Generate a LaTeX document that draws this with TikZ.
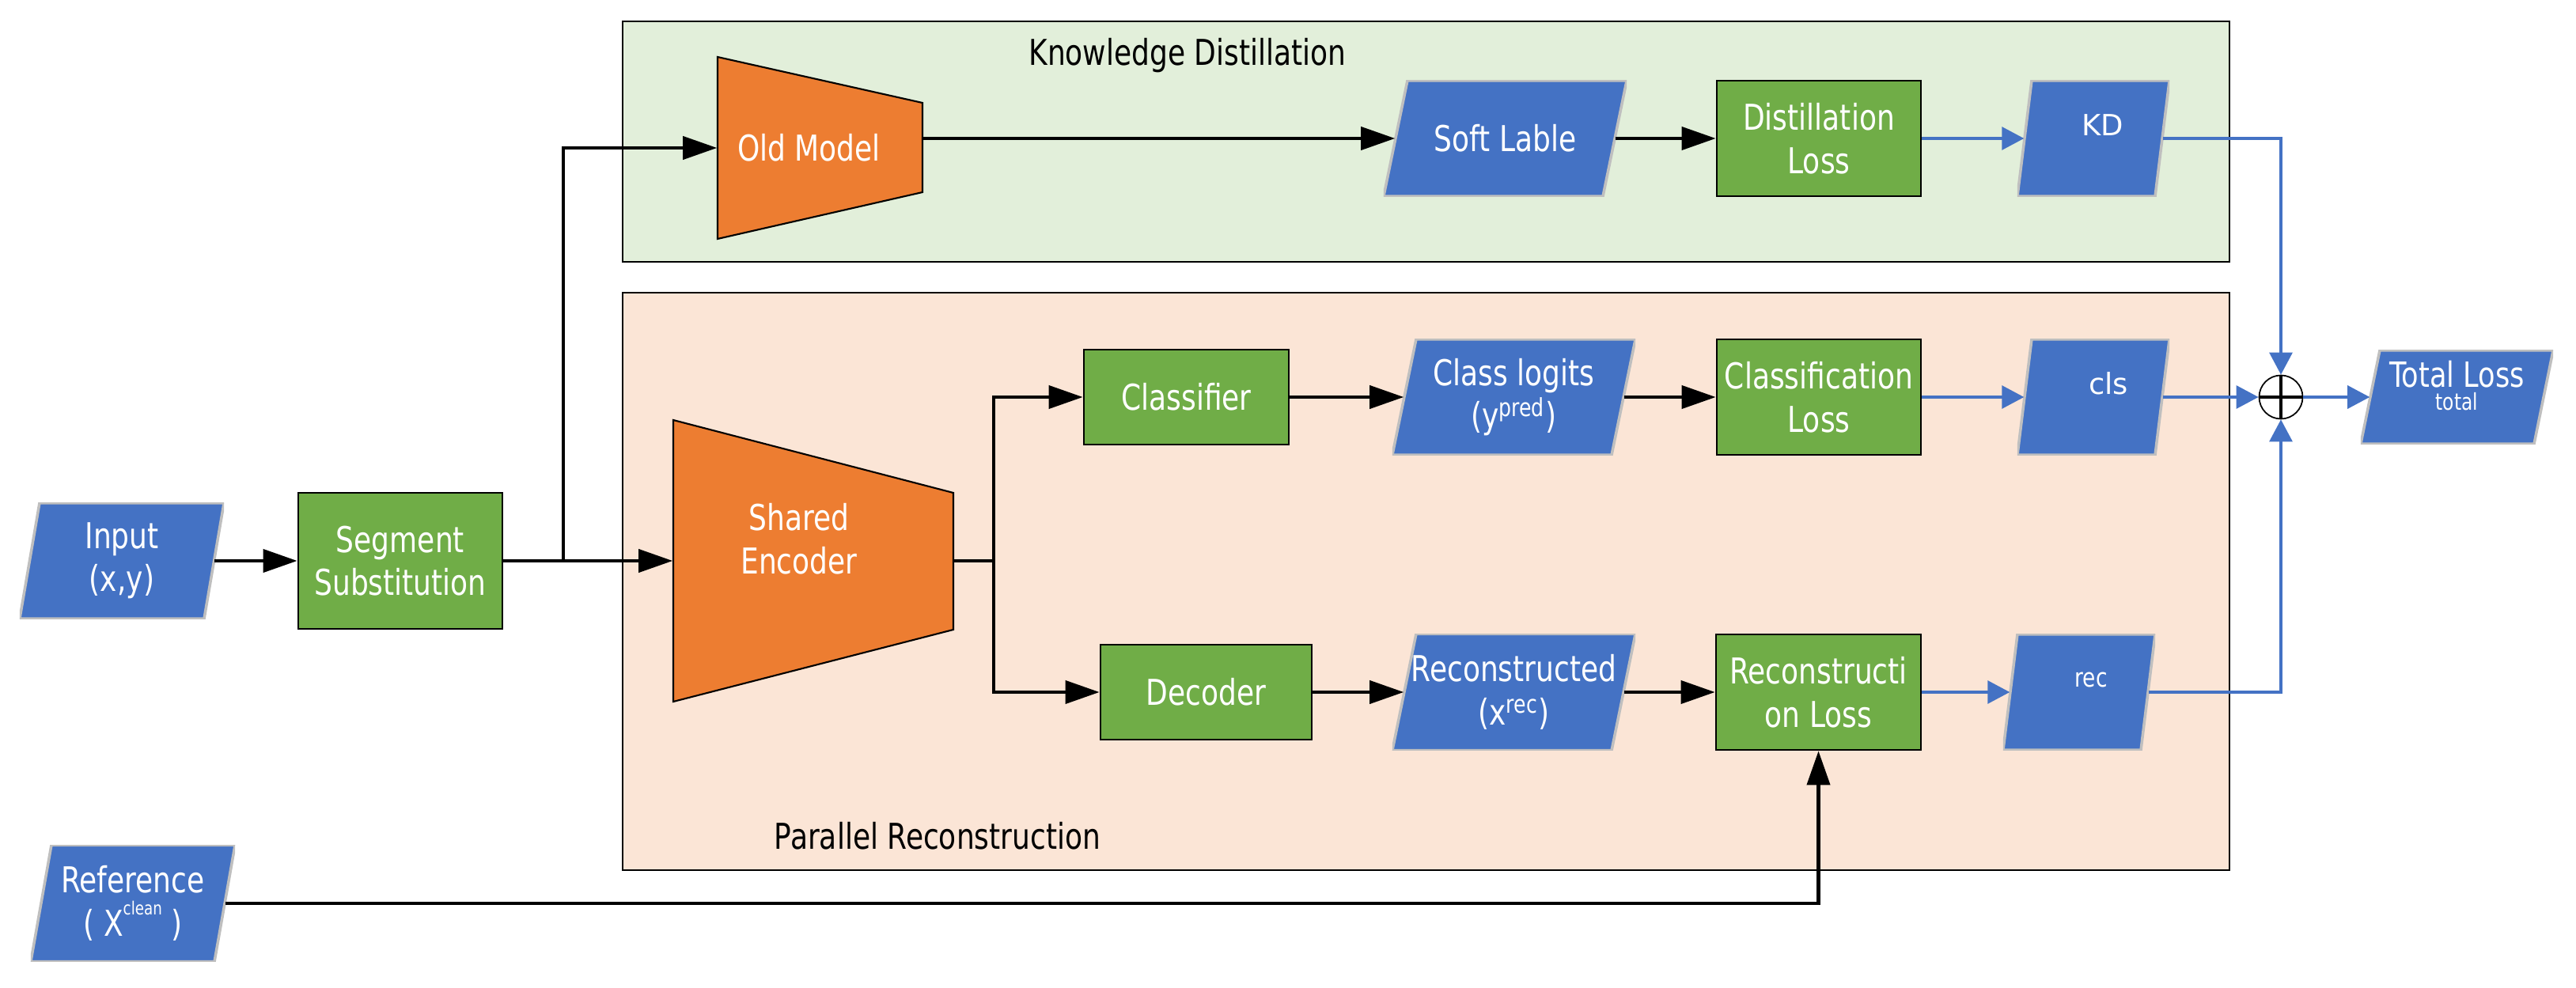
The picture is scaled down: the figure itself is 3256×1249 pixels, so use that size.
\documentclass[tikz,border=0pt]{standalone}
\usepackage{fontspec}
\usetikzlibrary{arrows.meta}
\newfontfamily\cond{DejaVu Sans}[FakeStretch=0.8]
\newfontfamily\dv{DejaVu Sans}
\definecolor{pblue}{HTML}{4472C4}
\definecolor{pgreen}{HTML}{70AD47}
\definecolor{porange}{HTML}{ED7D31}
\definecolor{kdbg}{HTML}{E2EFDA}
\definecolor{prbg}{HTML}{FBE5D6}
\definecolor{pgray}{HTML}{BFBFBF}
\tikzset{
  pslant/.store in=\pslant, pslant=0.25cm,
  mainfont/.style={font=\cond\fontsize{12.8}{15.5}\selectfont},
  regbox/.style={draw=black, line width=0.6pt},
  gbox/.style={mainfont, draw=black, line width=0.75pt, fill=pgreen, text=white, align=center, inner sep=0pt},
  para/.style={mainfont, inner sep=0pt, text=white, align=center,
    path picture={\filldraw[fill=pblue, draw=pgray, line width=1pt]
      ([xshift=\pslant]path picture bounding box.north west) -- (path picture bounding box.north east)
      -- ([xshift=-\pslant]path picture bounding box.south east) -- (path picture bounding box.south west) -- cycle;}},
  trap/.style={fill=porange, draw=black, line width=0.6pt},
  traptext/.style={mainfont, text=white, align=center, inner sep=0pt},
  region label/.style={mainfont, text=black, anchor=base},
  wire/.style={line width=1.15pt},
  arr/.style={wire, -{Triangle[length=0.43cm,width=0.29cm]}},
  bwire/.style={draw=pblue, line width=0.9pt},
  barr/.style={bwire, -{Triangle[length=0.28cm,width=0.29cm]}},
}
\begin{document}
\begin{tikzpicture}[x=0.01cm, y=-0.01cm]
\useasboundingbox (0,0) rectangle (3256,1249);

% regions
\filldraw[regbox, fill=kdbg] (787,27) rectangle (2818,331);
\filldraw[regbox, fill=prbg] (787,370) rectangle (2818,1100);
\node[region label] (kdlabel) at (1501,83) {Knowledge Distillation};
\node[region label] (prlabel) at (1185,1073) {Parallel Reconstruction};

% trapezoids
\filldraw[trap] (907,72) -- (1166,130) -- (1166,243) -- (907,302) -- cycle;
\node[traptext, minimum width=2.59cm, minimum height=2.30cm] (old) at (1036.5,187) {\kern-0.28cm Old Model};
\filldraw[trap] (851,531) -- (1205,623) -- (1205,796) -- (851,887) -- cycle;
\node[traptext, minimum width=3.54cm, minimum height=3.56cm] (enc) at (1028,709)
  {\kern-0.36cm\raisebox{0.22cm}[\height][\depth]{\begin{tabular}{@{}c@{}}Shared\\Encoder\end{tabular}}};

% inputs
\node[para, pslant=0.25cm, minimum width=2.58cm, minimum height=1.46cm] (in) at (154,709) {Input\\(x,y)};
\node[para, pslant=0.26cm, minimum width=2.58cm, minimum height=1.47cm] (ref) at (168,1142)
  {Reference\\( X\raisebox{1.1ex}{\fontsize{6.5}{7}\selectfont clean} )};
\node[gbox, minimum width=2.58cm, minimum height=1.72cm] (seg) at (506,709) {Segment\\Substitution};

% KD row
\node[para, pslant=0.30cm, minimum width=3.07cm, minimum height=1.46cm] (soft) at (1902.5,175) {Soft Lable};
\node[gbox, minimum width=2.58cm, minimum height=1.46cm] (dl) at (2299,175) {Distillation\\Loss};
\node[para, pslant=0.18cm, minimum width=1.92cm, minimum height=1.46cm] (kd) at (2646,175)
  {\dv\fontsize{10.5}{12}\selectfont\kern0.24cm\raisebox{0.165cm}[\height][\depth]{KD}};

% classification row
\node[gbox, minimum width=2.59cm, minimum height=1.20cm] (clf) at (1499.5,502) {Classifier};
\node[para, pslant=0.30cm, minimum width=3.07cm, minimum height=1.46cm] (cl) at (1913.5,502) {Class logits\\(y\textsuperscript{pred})};
\node[gbox, minimum width=2.58cm, minimum height=1.46cm] (cll) at (2299,502) {Classification\\Loss};
\node[para, pslant=0.18cm, minimum width=1.92cm, minimum height=1.46cm] (cls) at (2646,502)
  {\dv\fontsize{10.5}{12}\selectfont\kern0.38cm\raisebox{0.17cm}[\height][\depth]{cls}};

% reconstruction row
\node[gbox, minimum width=2.67cm, minimum height=1.20cm] (dec) at (1524.5,875) {Decoder};
\node[para, pslant=0.30cm, minimum width=3.07cm, minimum height=1.47cm] (rc) at (1913.5,875) {Reconstructed\\(x\textsuperscript{rec})};
\node[gbox, minimum width=2.59cm, minimum height=1.46cm] (rl) at (2298.5,875) {Reconstructi\\on Loss};
\node[para, pslant=0.18cm, minimum width=1.92cm, minimum height=1.46cm] (rec) at (2628,875)
  {\fontsize{9.4}{11}\selectfont\kern0.30cm\raisebox{0.16cm}[\height][\depth]{rec}};

% sum and total
\node[circle, draw=black, line width=0.5pt, fill=white, minimum size=0.55cm, inner sep=0pt,
  path picture={\draw[line width=1.1pt] (path picture bounding box.north) -- (path picture bounding box.south)
     (path picture bounding box.west) -- (path picture bounding box.east);}] (sum) at (2883,502) {};
\node[para, pslant=0.24cm, minimum width=2.43cm, minimum height=1.18cm] (tot) at (3105.5,502)
  {\raisebox{0.09cm}[\height][\depth]{\begin{tabular}{@{}c@{}}\fontsize{12.5}{15.5}\selectfont Total Loss\\[-7.2pt]\fontsize{8.3}{10}\selectfont total\end{tabular}}};

% connectors
\coordinate (j1) at (712,709);
\coordinate (j2) at (1256,709);
\draw[arr] ([xshift=-0.125cm]in.east) -- (seg.west);
\draw[arr] (seg.east) -- (enc.west);
\draw[arr] (j1) |- (old.west);
\draw[arr] (old.east |- soft.west) -- ([xshift=0.15cm]soft.west);
\draw[arr] ([xshift=-0.15cm]soft.east) -- (dl.west);
\draw[barr] (dl.east) -- ([xshift=0.09cm]kd.west);
\draw[barr] ([xshift=-0.09cm]kd.east) -| (sum.north);
\draw[wire] (enc.east) -- (j2);
\draw[arr] (j2) |- (clf.west);
\draw[arr] (j2) |- (dec.west);
\draw[arr] (clf.east) -- ([xshift=0.15cm]cl.west);
\draw[arr] ([xshift=-0.15cm]cl.east) -- (cll.west);
\draw[barr] (cll.east) -- ([xshift=0.09cm]cls.west);
\draw[barr] ([xshift=-0.09cm]cls.east) -- (sum.west);
\draw[arr] (dec.east) -- ([xshift=0.15cm]rc.west);
\draw[arr] ([xshift=-0.15cm]rc.east) -- (rl.west);
\draw[barr] (rl.east) -- ([xshift=0.09cm]rec.west);
\draw[barr] ([xshift=-0.09cm]rec.east) -| (sum.south);
\draw[barr] (sum.east) -- ([xshift=0.12cm]tot.west);
\draw[arr] ([xshift=-0.13cm]ref.east) -| (rl.south);
\end{tikzpicture}
\end{document}
